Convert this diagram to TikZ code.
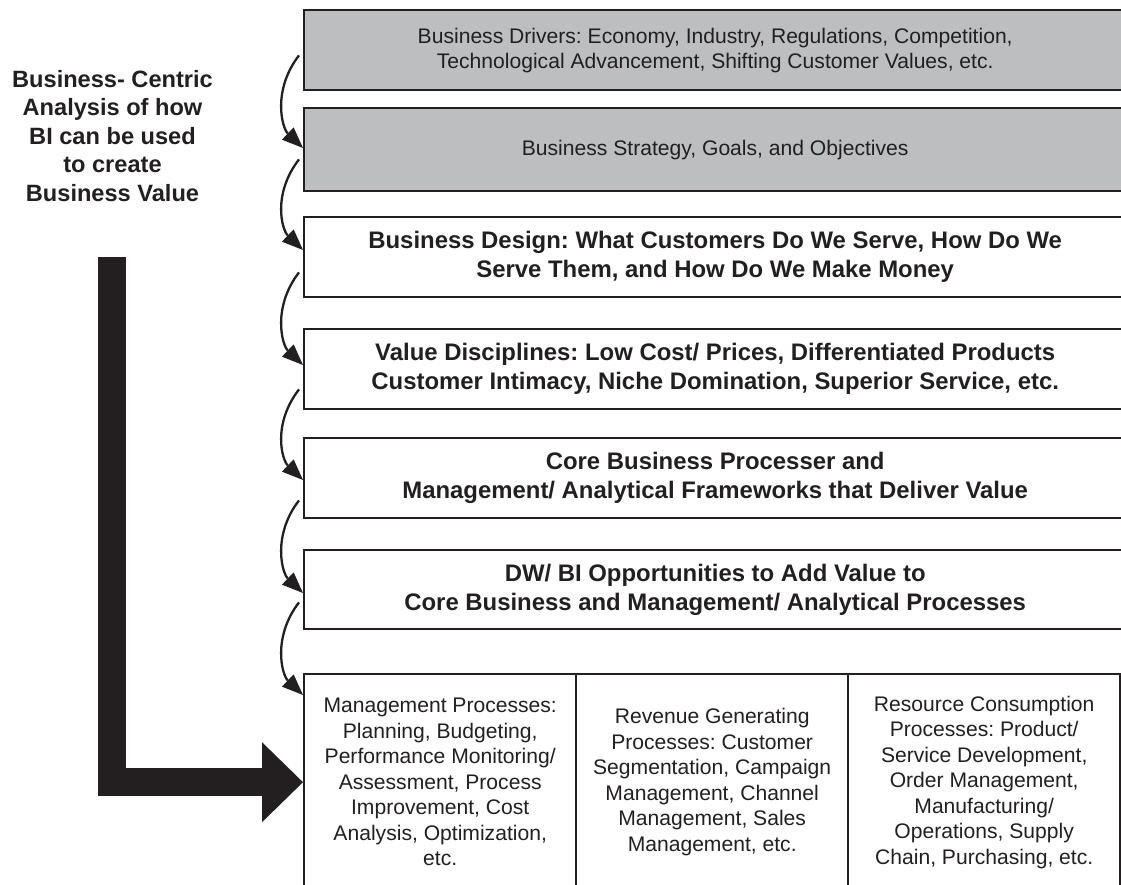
\documentclass[tikz,border=0pt]{standalone}
\usepackage{fontspec}
\setmainfont{Liberation Sans}
\usetikzlibrary{arrows.meta,calc}
\definecolor{ink}{HTML}{231F20}
\definecolor{boxgray}{HTML}{BCBEC0}
\begin{document}
\frenchspacing
\begin{tikzpicture}[x=1pt,y=-1pt,
  box/.style={draw=ink, line width=2.4pt, rectangle, anchor=north west, inner sep=0pt, align=center, text=ink, minimum width=822pt},
  graybox/.style={box, fill=boxgray, font=\fontsize{21.1}{25.3}\selectfont},
  boldbox/.style={box, fill=white, font=\fontsize{23.9}{29}\selectfont\bfseries},
  procbox/.style={box, fill=white, font=\fontsize{21.1}{25.5}\selectfont, minimum width=272pt, minimum height=216pt},
  flow/.style={draw=ink, line width=2.3pt, -{Triangle[length=21pt,width=17pt,line width=0pt]}},
  bigarrow/.style={draw=ink, line width=28pt, line join=miter, -{Triangle[length=41pt,width=80pt,line width=0pt]}},
  titletext/.style={font=\fontsize{23.6}{28.5}\selectfont\bfseries, align=center, text=ink}
]
\useasboundingbox (0,0) rectangle (1121,885);
\clip (0,0) rectangle (1121,885);

% stacked boxes
\node[graybox, minimum height=80pt] (b1) at (303,9)
  {Business Drivers: Economy, Industry, Regulations, Competition,\\Technological Advancement, Shifting Customer Values, etc.};
\node[graybox, minimum height=83pt] (b2) at (303,107)
  {Business Strategy, Goals, and Objectives};
\node[boldbox, minimum height=80pt] (b3) at (303,216)
  {Business Design: What Customers Do We Serve, How Do We\\Serve Them, and How Do We Make Money};
\node[boldbox, minimum height=80pt] (b4) at (303,328)
  {Value Disciplines: Low Cost/ Prices, Differentiated Products\\Customer Intimacy, Niche Domination, Superior Service, etc.};
\node[boldbox, minimum height=80pt] (b5) at (303,437)
  {Core Business Processer and\\Management/ Analytical Frameworks that Deliver Value};
\node[boldbox, minimum height=79pt] (b6) at (303,549)
  {DW/ BI Opportunities to Add Value to\\Core Business and Management/ Analytical Processes};

% process boxes
\node[procbox] (m1) at (303,673)
  {Management Processes:\\Planning, Budgeting,\\Performance Monitoring/\\Assessment, Process\\Improvement, Cost\\Analysis, Optimization,\\etc.};
\node[procbox] (m2) at (575,673)
  {Revenue Generating\\Processes: Customer\\Segmentation, Campaign\\Management, Channel\\Management, Sales\\Management, etc.};
\node[procbox] (m3) at (847,673)
  {Resource Consumption\\Processes: Product/\\Service Development,\\Order Management,\\Manufacturing/\\Operations, Supply\\Chain, Purchasing, etc.};

% title
\node[titletext] (title) at (112.5,136)
  {Business- Centric\\Analysis of how\\BI can be used\\to create\\Business Value};

% curved flow arrows
\draw[flow] ($(b1.south west)+(-4,-36)$) .. controls +(-27,35) and +(-21,-20) .. ($(b2.north west)+(0,41)$);
\draw[flow] ($(b2.south west)+(-4,-33)$) .. controls +(-27,35) and +(-21,-20) .. ($(b3.north west)+(0,34)$);
\draw[flow] ($(b3.south west)+(-4,-26)$) .. controls +(-27,35) and +(-21,-20) .. ($(b4.north west)+(0,37)$);
\draw[flow] ($(b4.south west)+(-4,-21)$) .. controls +(-27,35) and +(-21,-20) .. ($(b5.north west)+(0,43)$);
\draw[flow] ($(b5.south west)+(-4,-19)$) .. controls +(-27,35) and +(-21,-20) .. ($(b6.north west)+(0,44)$);
\draw[flow] ($(b6.south west)+(-4,-28)$) .. controls +(-27,35) and +(-21,-20) .. ($(m1.north west)+(0,22)$);

% big L arrow
\coordinate (bigstart) at (111.5,257);
\draw[bigarrow] (bigstart) |- (m1.west);
\end{tikzpicture}
\end{document}
